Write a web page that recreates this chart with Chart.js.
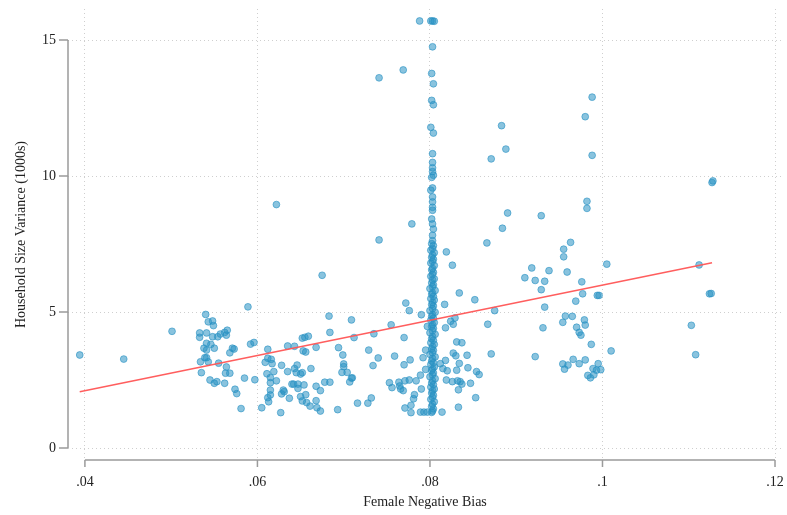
<!DOCTYPE html>
<html>
<head>
<meta charset="utf-8">
<script src="https://cdn.jsdelivr.net/npm/chart.js@4/dist/chart.umd.min.js"></script>
<style>
  body { margin: 0; background: #fff; }
</style>
</head>
<body>
<canvas id="chart" width="787" height="515"></canvas>
<script>
"use strict";

// female negative bias vs household size variance (1000s)
const leftCluster = [
  [.0394, 3.42], [.0445, 3.27], [.0501, 4.29], [.0540, 4.91], [.0543, 4.64], [.0548, 4.67],
  [.0549, 4.50], [.0533, 4.23], [.0541, 4.23], [.0533, 4.07], [.0548, 4.09], [.0554, 4.09],
  [.0557, 4.19], [.0562, 4.25], [.0565, 4.33], [.0564, 4.15], [.0541, 3.85], [.0546, 3.81],
  [.0538, 3.67], [.0541, 3.60], [.0550, 3.67], [.0571, 3.67], [.0573, 3.64], [.0568, 3.50],
  [.0539, 3.32], [.0541, 3.32], [.0534, 3.17], [.0543, 3.17], [.0555, 3.12], [.0564, 2.98],
  [.0535, 2.77], [.0563, 2.75], [.0568, 2.75], [.0585, 2.57], [.0545, 2.50], [.0553, 2.44],
  [.0550, 2.38], [.0562, 2.38], [.0574, 2.16], [.0576, 2.00], [.0581, 1.45], [.0589, 5.19],
  [.0592, 3.82], [.0596, 3.88], [.0597, 2.51],
];

const middleCluster = [
  [.0675, 6.35], [.0612, 3.63], [.0609, 3.15], [.0612, 3.30], [.0616, 3.26], [.0617, 3.10],
  [.0619, 2.81], [.0611, 2.73], [.0615, 2.59], [.0622, 2.47], [.0615, 2.40], [.0615, 2.13],
  [.0612, 1.85], [.0615, 1.95], [.0613, 1.70], [.0605, 1.48], [.0627, 1.30], [.0628, 3.04],
  [.0635, 3.75], [.0643, 3.74], [.0652, 4.04], [.0655, 4.07], [.0659, 4.11], [.0653, 3.57],
  [.0656, 3.53], [.0668, 3.70], [.0635, 2.81], [.0643, 2.92], [.0646, 3.05], [.0645, 2.77],
  [.0650, 2.72], [.0652, 2.77], [.0662, 2.92], [.0630, 2.13], [.0628, 1.99], [.0631, 2.07],
  [.0640, 2.35], [.0642, 2.35], [.0647, 2.35], [.0647, 2.19], [.0654, 2.32], [.0637, 1.83],
  [.0650, 1.89], [.0656, 1.96], [.0652, 1.73], [.0657, 1.67], [.0661, 1.54], [.0668, 2.27],
  [.0673, 2.11], [.0668, 1.74], [.0669, 1.48], [.0673, 1.36], [.0678, 2.42], [.0684, 2.42],
  [.0683, 4.85], [.0684, 4.25], [.0694, 3.69], [.0699, 3.42], [.0700, 3.09], [.0700, 2.99],
  [.0698, 2.78], [.0704, 2.78], [.0709, 2.57], [.0710, 2.58], [.0707, 2.43], [.0693, 1.41],
  [.0709, 4.71], [.0712, 4.06], [.0716, 1.65], [.0729, 3.60], [.0734, 3.03], [.0740, 3.31],
  [.0735, 4.20], [.0755, 4.53], [.0759, 3.38], [.0728, 1.65], [.0732, 1.84], [.0753, 2.40],
  [.0756, 2.22], [.0764, 2.42], [.0765, 2.28], [.0766, 2.17], [.0769, 2.11], [.0771, 2.47],
  [.0776, 2.50], [.0770, 3.06], [.0777, 3.24], [.0770, 4.06], [.0772, 5.33], [.0776, 5.05],
  [.0771, 1.47], [.0778, 1.57], [.0778, 1.30], [.0781, 1.81], [.0782, 1.96], [.0784, 2.47],
  [.0622, 8.95], [.0741, 13.61], [.0741, 7.65], [.0788, 15.70], [.0769, 13.90], [.0779, 8.24],
  [.0790, 4.90], [.0797, 4.47], [.0795, 3.60], [.0792, 3.32], [.0789, 2.68], [.0795, 2.89],
  [.0790, 2.17], [.0789, 1.32], [.0793, 1.32], [.0797, 1.32],
];

const column = [
  [.0803, 15.70], [.0801, 15.70], [.0805, 15.69], [.0803, 14.75], [.0802, 13.77], [.0804, 13.39],
  [.0802, 12.78], [.0804, 12.62], [.0801, 11.79], [.0804, 11.58], [.0803, 10.82], [.0803, 10.50],
  [.0803, 10.30], [.0803, 10.16], [.0804, 10.03], [.0802, 9.95], [.0803, 9.56], [.0801, 9.48],
  [.0803, 9.23], [.0803, 9.05], [.0803, 8.85], [.0803, 8.74], [.0802, 8.42], [.0803, 8.24],
  [.0804, 8.05], [.0803, 7.82], [.0803, 7.62], [.0802, 7.51], [.0804, 7.44], [.0803, 7.33],
  [.0801, 7.27], [.0805, 7.18], [.0803, 7.10], [.0802, 7.01], [.0804, 6.94], [.0803, 6.86],
  [.0801, 6.80], [.0805, 6.71], [.0803, 6.60], [.0802, 6.55], [.0804, 6.46], [.0803, 6.38],
  [.0801, 6.31], [.0805, 6.22], [.0803, 6.18], [.0802, 6.07], [.0804, 6.00], [.0803, 5.93],
  [.0800, 5.86], [.0806, 5.79], [.0803, 5.70], [.0802, 5.66], [.0804, 5.57], [.0801, 5.49],
  [.0805, 5.44], [.0803, 5.35], [.0802, 5.27], [.0804, 5.22], [.0803, 5.12], [.0800, 5.05],
  [.0806, 4.99], [.0803, 4.90], [.0802, 4.84], [.0804, 4.77], [.0801, 4.70], [.0805, 4.61],
  [.0803, 4.53], [.0802, 4.47], [.0804, 4.40], [.0803, 4.31], [.0800, 4.24], [.0806, 4.18],
  [.0803, 4.09], [.0802, 4.02], [.0804, 3.96], [.0801, 3.87], [.0805, 3.81], [.0803, 3.73],
  [.0802, 3.64], [.0804, 3.59], [.0803, 3.50], [.0800, 3.44], [.0806, 3.35], [.0803, 3.29],
  [.0802, 3.20], [.0804, 3.13], [.0801, 3.07], [.0805, 2.98], [.0803, 2.91], [.0802, 2.85],
  [.0804, 2.76], [.0803, 2.69], [.0800, 2.62], [.0806, 2.55], [.0803, 2.47], [.0802, 2.39],
  [.0804, 2.33], [.0801, 2.24], [.0805, 2.17], [.0803, 2.11], [.0802, 2.02], [.0804, 1.94],
  [.0803, 1.86], [.0801, 1.79], [.0805, 1.70], [.0803, 1.61], [.0802, 1.53], [.0804, 1.44],
  [.0803, 1.36], [.0802, 1.31],
];

const rightCluster = [
  [.0883, 11.85], [.0888, 10.99], [.0871, 10.63], [.0988, 12.90], [.0980, 12.18], [.0988, 10.76],
  [.1127, 9.76], [.1128, 9.82], [.0982, 9.07], [.0982, 8.81], [.0890, 8.64], [.0929, 8.54],
  [.0884, 8.08], [.0866, 7.54], [.0963, 7.56], [.0819, 7.21], [.0955, 7.31], [.0955, 7.03],
  [.0959, 6.47], [.0976, 6.11], [.1005, 6.76], [.1112, 6.73], [.0977, 5.67], [.0969, 5.40],
  [.0994, 5.61], [.0996, 5.61], [.1124, 5.67], [.1126, 5.68], [.0957, 4.85], [.0965, 4.84],
  [.0954, 4.62], [.0979, 4.71], [.0980, 4.52], [.0970, 4.44], [.0973, 4.25], [.0975, 4.15],
  [.0987, 3.81], [.1010, 3.57], [.1103, 4.51], [.1108, 3.43], [.0954, 3.09], [.0960, 3.05],
  [.0956, 2.90], [.0966, 3.26], [.0973, 3.10], [.0980, 3.24], [.0995, 3.10], [.0989, 2.92],
  [.0993, 2.86], [.0998, 2.88], [.0983, 2.67], [.0986, 2.58], [.0990, 2.69], [.0826, 6.72],
  [.0918, 6.62], [.0910, 6.26], [.0938, 6.52], [.0922, 6.16], [.0933, 6.13], [.0929, 5.82],
  [.0834, 5.70], [.0852, 5.45], [.0875, 5.05], [.0933, 5.18], [.0817, 5.28], [.0867, 4.55],
  [.0931, 4.42], [.0818, 4.42], [.0829, 4.78], [.0824, 4.66], [.0827, 4.55], [.0831, 3.90],
  [.0837, 3.87], [.0827, 3.49], [.0830, 3.39], [.0843, 3.41], [.0871, 3.46], [.0818, 3.22],
  [.0834, 3.11], [.0844, 2.95], [.0854, 2.81], [.0857, 2.70], [.0820, 2.84], [.0831, 2.86],
  [.0819, 2.50], [.0826, 2.44], [.0832, 2.47], [.0835, 2.44], [.0837, 2.35], [.0847, 2.38],
  [.0833, 2.14], [.0853, 1.85], [.0814, 1.32], [.0833, 1.50], [.0922, 3.36], [.0812, 3.10],
  [.0815, 2.92],
];

// fitted line end points
const fitBias = [.0394, .1127];
const fitVariance = [2.07, 6.81];

const xTicks = [.04, .06, .08, .10, .12];
const xTickLabels = [".04", ".06", ".08", ".1", ".12"];
const yTicks = [0, 5, 10, 15];
const yTickLabels = ["0", "5", "10", "15"];

const FONT = { family: "'Liberation Serif', 'Times New Roman', serif", size: 14 };
const AXIS_COLOR = "#9b9b9b";

const toPoints = (rows) => rows.map(([x, y]) => ({ x: x, y: y }));

const allPoints = []
  .concat(toPoints(leftCluster))
  .concat(toPoints(middleCluster))
  .concat(toPoints(column))
  .concat(toPoints(rightCluster));

// no extra room for edge labels, the plot area is placed by hand
function noPadding(scale) {
  scale.paddingTop = 0;
  scale.paddingBottom = 0;
  scale.paddingLeft = 0;
  scale.paddingRight = 0;
}

// stata style axes: line only spans the labelled range
const axisLines = {
  id: "axisLines",
  afterDraw(chart) {
    const { ctx, chartArea, scales } = chart;
    const x = scales.x, y = scales.y;
    const left = chartArea.left, bottom = chartArea.bottom;
    ctx.save();
    ctx.strokeStyle = AXIS_COLOR;
    ctx.lineWidth = 1.5;
    ctx.beginPath();
    ctx.moveTo(left, y.getPixelForValue(yTicks[0]));
    ctx.lineTo(left, y.getPixelForValue(yTicks[yTicks.length - 1]));
    yTicks.forEach((v) => {
      const p = y.getPixelForValue(v);
      ctx.moveTo(left - 9, p);
      ctx.lineTo(left, p);
    });
    ctx.moveTo(x.getPixelForValue(xTicks[0]), bottom);
    ctx.lineTo(x.getPixelForValue(xTicks[xTicks.length - 1]), bottom);
    xTicks.forEach((v) => {
      const p = x.getPixelForValue(v);
      ctx.moveTo(p, bottom);
      ctx.lineTo(p, bottom + 7);
    });
    ctx.stroke();
    ctx.restore();
  },
};

const ctx = document.getElementById("chart").getContext("2d");
new Chart(ctx, {
  type: "scatter",
  data: {
    datasets: [
      {
        label: "Fitted values",
        data: fitBias.map((x, i) => ({ x: x, y: fitVariance[i] })),
        showLine: true,
        borderColor: "rgba(255,85,85,0.95)",
        borderWidth: 1.6,
        pointRadius: 0,
        order: 0,
      },
      {
        label: "Household size variance",
        data: allPoints,
        backgroundColor: "rgba(40,145,195,0.55)",
        borderColor: "rgba(40,145,195,0.6)",
        borderWidth: 1,
        pointRadius: 3.4,
        order: 1,
      },
    ],
  },
  options: {
    responsive: false,
    animation: false,
    layout: { padding: { top: 9, right: 2, left: 0, bottom: 0 } },
    plugins: { legend: { display: false }, tooltip: { enabled: false } },
    scales: {
      x: {
        type: "linear",
        min: 0.03804,
        max: 0.12081,
        afterBuildTicks: (scale) => { scale.ticks = xTicks.map((v) => ({ value: v })); },
        afterFit: (scale) => { scale.height = 55; noPadding(scale); },
        ticks: {
          font: FONT,
          color: "#222",
          padding: 14,
          maxRotation: 0,
          callback: (v) => xTickLabels[xTicks.findIndex((t) => Math.abs(t - v) < 1e-9)],
        },
        grid: { color: "#cfcfcf", drawTicks: false, lineWidth: 1 },
        border: { display: false, dash: [1, 3] },
        title: { display: true, text: "Female Negative Bias", font: FONT, color: "#222", padding: { top: 0, bottom: 4 } },
      },
      y: {
        type: "linear",
        min: -0.441,
        max: 16.14,
        afterBuildTicks: (scale) => { scale.ticks = yTicks.map((v) => ({ value: v })); },
        afterFit: (scale) => { scale.width = 68; noPadding(scale); },
        ticks: {
          font: FONT,
          color: "#222",
          padding: 12,
          callback: (v) => yTickLabels[yTicks.indexOf(v)],
        },
        grid: { color: "#cfcfcf", drawTicks: false, lineWidth: 1 },
        border: { display: false, dash: [1, 3] },
        title: { display: true, text: "Household Size Variance (1000s)", font: FONT, color: "#222", padding: { top: 13, bottom: 0 } },
      },
    },
  },
  plugins: [axisLines],
});
</script>
</body>
</html>
